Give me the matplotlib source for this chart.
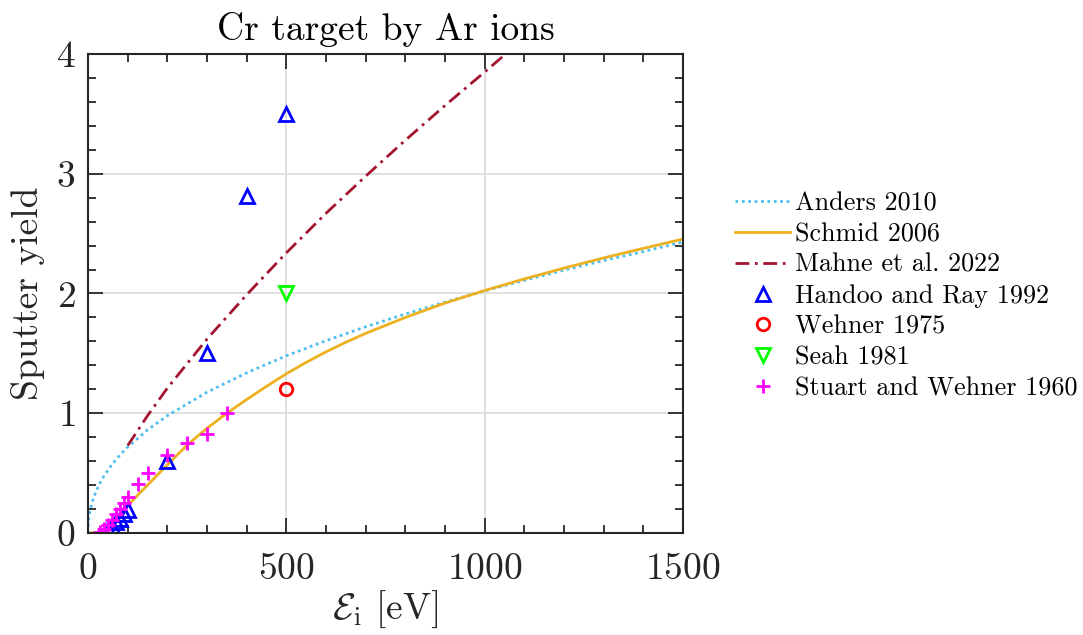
import matplotlib
matplotlib.use("Agg")
import matplotlib.pyplot as plt
from matplotlib.ticker import MultipleLocator

plt.rcParams["font.family"] = "cmr10"
plt.rcParams["mathtext.fontset"] = "cm"
plt.rcParams["axes.formatter.use_mathtext"] = True

# model curves
anders_E = [0, 1, 2, 5, 10, 20, 30, 40, 60, 80, 100, 150, 200, 300, 400, 500,
            600, 700, 800, 900, 1000, 1100, 1200, 1300, 1400, 1500]
anders_Y = [0, 0.09, 0.123, 0.186, 0.254, 0.348, 0.417, 0.475, 0.57, 0.65, 0.717,
            0.861, 0.98, 1.176, 1.338, 1.48, 1.606, 1.722, 1.829, 1.928, 2.022,
            2.11, 2.195, 2.275, 2.35, 2.43]

schmid_E = [0, 23, 30, 40, 50, 60, 80, 100, 125, 150, 200, 250, 300, 350, 400,
            450, 500, 550, 600, 650, 700, 800, 900, 1000, 1100, 1200, 1300, 1400, 1500]
schmid_Y = [0, 0, 0.01, 0.03, 0.055, 0.085, 0.155, 0.23, 0.315, 0.40, 0.57, 0.735,
            0.875, 1.0, 1.115, 1.225, 1.33, 1.425, 1.513, 1.593, 1.667, 1.80, 1.92,
            2.025, 2.122, 2.212, 2.297, 2.377, 2.455]

mahne_E = [100, 150, 200, 300, 400, 500, 600, 700, 800, 900, 1000, 1060]
mahne_Y = [0.73, 0.98, 1.21, 1.62, 1.99, 2.34, 2.67, 2.98, 3.28, 3.57, 3.85, 4.02]

# measurements
handoo_E = [50, 60, 70, 80, 90, 100, 200, 300, 400, 500]
handoo_Y = [0.035, 0.06, 0.09, 0.12, 0.155, 0.19, 0.60, 1.50, 2.81, 3.50]

wehner_E = [500]
wehner_Y = [1.20]

seah_E = [500]
seah_Y = [2.0]

stuart_E = [30, 40, 50, 60, 70, 80, 90, 100, 125, 150, 200, 250, 300, 350]
stuart_Y = [0.005, 0.03, 0.07, 0.11, 0.16, 0.20, 0.25, 0.30, 0.41, 0.50, 0.65,
            0.755, 0.825, 1.00]

fig = plt.figure(figsize=(10.83, 6.35), dpi=100)
ax = fig.add_axes([0.0813, 0.1606, 0.5494, 0.7544])

ax.plot(anders_E, anders_Y, color="#4DBEEE", lw=2, ls=(0, (1, 1.3)), label="Anders 2010")
ax.plot(schmid_E, schmid_Y, color="#EDB120", lw=2, label="Schmid 2006")
ax.plot(mahne_E, mahne_Y, color="#A2142F", lw=2, ls=(0, (5, 2, 1, 2)), label="Mahne et al. 2022")
ax.plot(handoo_E, handoo_Y, ls="none", marker="^", ms=10.5, mfc="none", mec="blue", mew=2,
        label="Handoo and Ray 1992")
ax.plot(wehner_E, wehner_Y, ls="none", marker="o", ms=9, mfc="none", mec="red", mew=2,
        label="Wehner 1975")
ax.plot(seah_E, seah_Y, ls="none", marker="v", ms=10.5, mfc="none", mec="#00FF00", mew=2,
        label="Seah 1981")
ax.plot(stuart_E, stuart_Y, ls="none", marker="+", ms=10, mec="magenta", mew=2,
        label="Stuart and Wehner 1960")

ax.set_xlim(0, 1500)
ax.set_ylim(0, 4)
ax.xaxis.set_major_locator(MultipleLocator(500))
ax.xaxis.set_minor_locator(MultipleLocator(100))
ax.yaxis.set_major_locator(MultipleLocator(1))
ax.yaxis.set_minor_locator(MultipleLocator(0.2))
ax.grid(True, which="major", color="#dddddd", lw=1.3)
ax.set_axisbelow(True)

ax.tick_params(which="both", direction="in", top=True, right=True, colors="#262626",
               labelcolor="#262626", labelsize=27)
ax.tick_params(which="major", length=11, width=1.3)
ax.tick_params(which="minor", length=6, width=1.3)
ax.tick_params(axis="x", pad=14)
ax.tick_params(axis="y", pad=9)
for s in ax.spines.values():
    s.set_color("#262626")
    s.set_linewidth(1.5)

ax.set_xlabel(r"$\mathcal{E}_\mathrm{i}$ [eV]", fontsize=27, color="#262626", labelpad=2)
ax.set_ylabel("Sputter yield", fontsize=27, color="#262626", labelpad=8)
ax.set_title("Cr target by Ar ions", fontsize=27, color="black", pad=10)

ax.legend(loc="center left", bbox_to_anchor=(1.07, 0.495), frameon=False, fontsize=18.8,
          handlelength=2.1, handletextpad=0.2, labelspacing=0.27, borderaxespad=0)

fig.savefig("out.png", dpi=100)
